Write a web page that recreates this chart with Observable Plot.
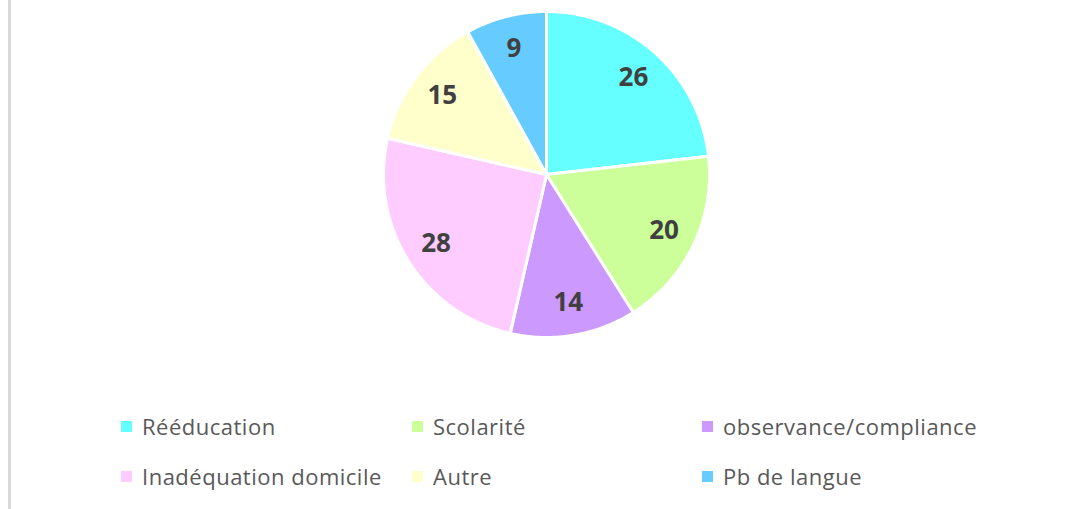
<!DOCTYPE html>
<html>
<head>
<meta charset="utf-8">
<script src="https://cdn.jsdelivr.net/npm/d3@7"></script>
<script src="https://cdn.jsdelivr.net/npm/@observablehq/plot@0.6"></script>
<style>
  html, body { margin: 0; padding: 0; background: #fff; }
  #wrap { position: relative; width: 1069px; height: 509px; overflow: hidden; background: #fff; }
  #vline { position: absolute; left: 8px; top: 0; width: 2.5px; height: 509px; background: #d9d9d9; }
  #chart { position: absolute; left: 0; top: 0; }
  #legend { position: absolute; left: 121px; top: 401px; display: grid;
    grid-template-columns: 291px 290px auto; grid-auto-rows: 50px;
    font-family: "Open Sans", sans-serif; font-size: 22px; letter-spacing: 0.5px; color: #595959; }
  .item { display: flex; align-items: center; white-space: nowrap; }
  .sw { width: 11px; height: 11px; margin-right: 10px; flex: none; }
</style>
</head>
<body>
<div id="wrap">
  <div id="vline"></div>
  <div id="chart"></div>
  <div id="legend"></div>
</div>
<script>
const categories = ["Rééducation", "Scolarité", "observance/compliance", "Inadéquation domicile", "Autre", "Pb de langue"];
const values = [26, 20, 14, 28, 15, 9];
const colors = ["#66FFFF", "#CCFF99", "#CC99FF", "#FFCCFF", "#FFFFCC", "#66CCFF"];

const data = categories.map((c, i) => ({category: c, value: values[i]}));
const arcs = d3.pie().sort(null).value(d => d.value)(data);

// polygon outline of each slice (angles from d3.pie, clockwise from 12 o'clock)
const slicePoints = [];
for (const a of arcs) {
  const cat = a.data.category;
  slicePoints.push({category: cat, x: 0, y: 0});
  const n = Math.max(8, Math.ceil((a.endAngle - a.startAngle) / 0.01));
  for (let k = 0; k <= n; k++) {
    const t = a.startAngle + (a.endAngle - a.startAngle) * k / n;
    slicePoints.push({category: cat, x: Math.sin(t), y: Math.cos(t)});
  }
  slicePoints.push({category: cat, x: 0, y: 0});
}
const labelR = 0.8;
const labels = arcs.map(a => {
  const m = (a.startAngle + a.endAngle) / 2;
  return {category: a.data.category, value: a.data.value, x: labelR * Math.sin(m), y: labelR * Math.cos(m)};
});

const chart = Plot.plot({
  width: 1069,
  height: 348,
  marginLeft: 383,
  marginRight: 360,
  marginTop: 11,
  marginBottom: 11,
  x: {domain: [-1, 1], axis: null},
  y: {domain: [-1, 1], axis: null},
  color: {domain: categories, range: colors},
  style: {background: "transparent", overflow: "visible"},
  marks: [
    Plot.line(slicePoints, {x: "x", y: "y", z: "category", fill: "category", stroke: "white", strokeWidth: 3, strokeLinejoin: "round"}),
    Plot.text(labels, {x: "x", y: "y", text: d => String(d.value), fill: "#404040", fontSize: 26, fontWeight: "bold", fontFamily: "Open Sans", textAnchor: "middle"})
  ]
});
document.getElementById("chart").appendChild(chart);

const legend = document.getElementById("legend");
categories.forEach((c, i) => {
  const it = document.createElement("div");
  it.className = "item";
  const sw = document.createElement("span");
  sw.className = "sw";
  sw.style.background = colors[i];
  const tx = document.createElement("span");
  tx.textContent = c;
  it.appendChild(sw);
  it.appendChild(tx);
  legend.appendChild(it);
});
</script>
</body>
</html>
